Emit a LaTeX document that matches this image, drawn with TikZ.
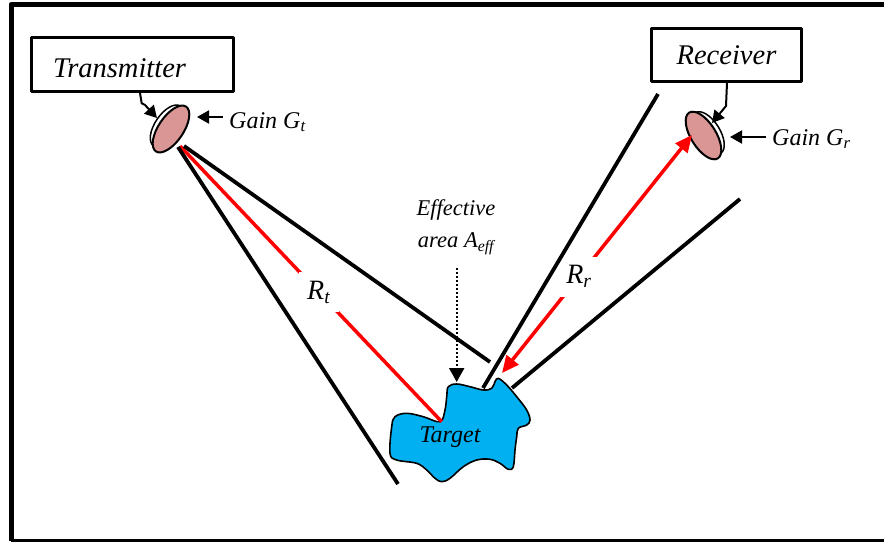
\documentclass[tikz,border=0pt]{standalone}
\usepackage{fontspec}
\setmainfont{Liberation Serif}
\usetikzlibrary{shapes.geometric,arrows.meta}
\definecolor{dishpink}{RGB}{217,150,148}
\definecolor{targetblue}{RGB}{0,176,240}

\begin{document}
\begin{tikzpicture}[x=1pt,y=-1pt,line join=round]
  \tikzstyle{unitbox}=[draw,line width=3pt,inner sep=0pt,font=\fontsize{28.5}{32}\selectfont\itshape]
  \tikzstyle{dish}=[ellipse,draw,line width=2pt,fill=dishpink,minimum width=54pt,minimum height=25pt,inner sep=0pt]
  \tikzstyle{dishback}=[ellipse,draw,line width=1.5pt,fill=white,minimum width=48pt,minimum height=24pt,inner sep=0pt]
  \tikzstyle{beam}=[line width=3.8pt]
  \tikzstyle{rangeline}=[draw=red,line width=3.5pt]
  \tikzstyle{gaplabel}=[fill=white,minimum size=40pt,inner sep=0pt,font=\fontsize{28}{32}\selectfont\itshape]
  \tikzstyle{pointer}=[-{Triangle[length=12pt,width=13pt]},line width=2pt]
  \tikzstyle{lbl}=[font=\fontsize{24}{28}\selectfont\itshape,inner sep=0pt]
  \useasboundingbox (0,0) rectangle (884,542);

  % frame
  \draw[line width=5pt] (884,4.5) -- (11,4.5) -- (11,541);
  \draw[line width=3pt] (11,540.5) -- (884,540.5);

  % transmitter and receiver
  \node[unitbox,minimum height=54pt,text width=159pt,inner xsep=21.5pt,align=left,text height=26pt] (txbox) at (132.5,64.5) {Transmitter};
  \node[unitbox,minimum width=150pt,minimum height=53pt] (rxbox) at (726.5,55) {Receiver};

  % antennas
  \node[dishback,rotate=56] at (167,126) {};
  \node[dish,rotate=56] (txdish) at (171,129) {};
  \node[dishback,rotate=-58] at (708,133) {};
  \node[dish,rotate=-58] (rxdish) at (703.5,135.5) {};

  % feeds and gain pointers
  \coordinate (txfeed) at (157,118);
  \coordinate (rxfeed) at (712,123);
  \draw[pointer] (140,93) -- (141.7,103.3) -- (145,105) -- (txfeed);
  \draw[pointer] (rxbox.south -| 727,0) -- (726,106) -- (rxfeed);
  \node[lbl,anchor=base west] (txgain) at (229,128) {Gain G\textsubscript{t}};
  \node[lbl,anchor=base west] (rxgain) at (772,145) {Gain G\textsubscript{r}};
  \draw[pointer] (txgain.west |- 0,117) ++(-6,0) -- (197,117);
  \draw[pointer] (rxgain.west |- 0,137) ++(-6,0) -- (730,137);

  % target
  \draw[line width=1.6pt,fill=targetblue] plot[smooth cycle,tension=0.6] coordinates {
    (448.3,386.7) (456.7,384) (470,386.7) (483.3,390) (491.7,388.3) (495,381.7)
    (498.3,378.3) (506.7,385) (516.7,396.7) (526.7,410) (530,420) (526.7,425)
    (518.3,428.3) (516.7,436.7) (515,450) (513.3,466.7) (508.3,469.3) (500,463.3)
    (490,459.3) (476.7,460) (463.3,466.7) (450,478.3) (441.7,481.7) (435,478.3)
    (426.7,470) (416.7,463.3) (396.7,460) (390,453.3) (391.7,426.7) (395,416.7)
    (406.7,413.3) (423.3,416.7) (440,421.7) (445,410) (446.7,396.7)};
  \node[lbl] (target) at (450,437) {Target};
  \coordinate (txhit) at (441.7,421.7);
  \coordinate (rxhit) at (502,373);
  \coordinate (tgttop) at (456.7,382);

  % ranges
  \draw[rangeline] (txdish.center) ++(9,17) -- node[gaplabel,pos=0.53] {R\textsubscript{t}} (txhit);
  \draw[rangeline,{Triangle[length=17pt,width=15pt]}-{Triangle[length=17pt,width=15pt]}] (rxhit) -- node[gaplabel,pos=0.405] {R\textsubscript{r}} (692,135);

  % beam edges
  \draw[beam] (178,147) -- (398,484);
  \draw[beam] (184,146) -- (490,362);
  \draw[beam] (658,94) -- (483,388);
  \draw[beam] (740,199) -- (512,388);

  % effective area
  \node[align=center,inner sep=0pt,font=\fontsize{22.5}{32}\selectfont\itshape] (effarea) at (456,227) {Effective\\area A\textsubscript{eff}};
  \draw[dotted,line width=2pt,-{Triangle[length=14pt,width=15pt]}] (456.7,268) -- (tgttop);
\end{tikzpicture}
\end{document}
